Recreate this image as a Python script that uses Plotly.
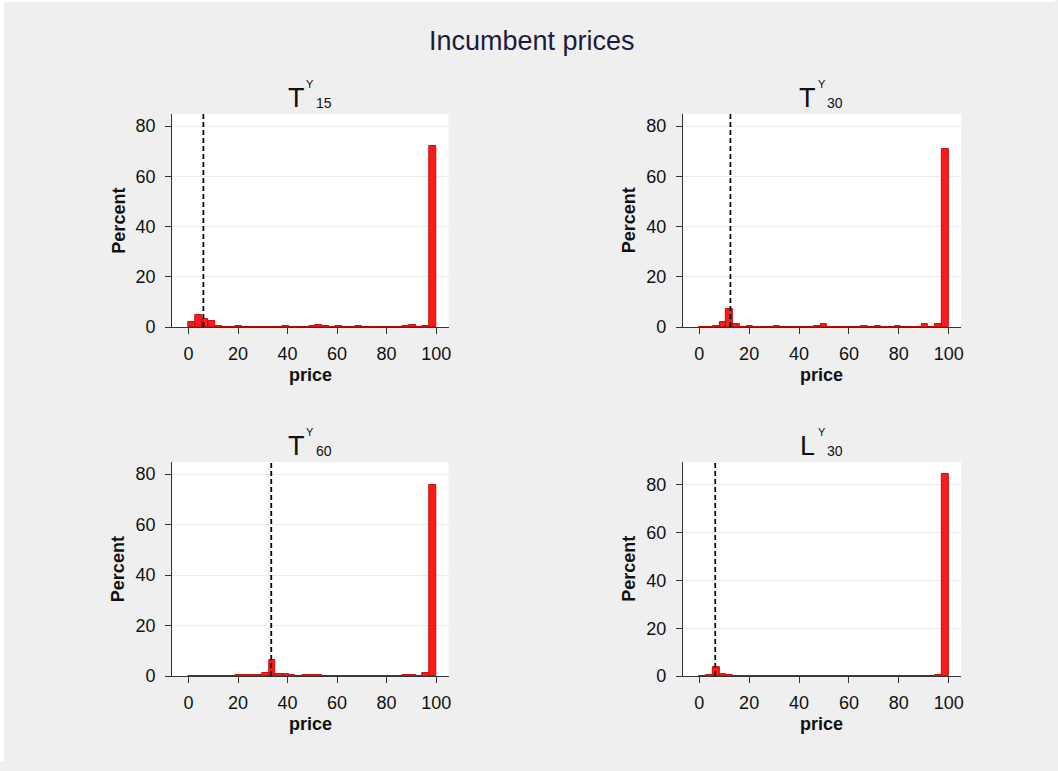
import plotly.graph_objects as go

W, H = 1058, 771

# ---------------- data ----------------
bin_left = [0.0, 2.7, 5.4, 8.1, 10.8, 13.5, 16.2, 18.9, 21.6, 24.3,
            27.0, 29.7, 32.4, 35.1, 37.8, 40.5, 43.2, 45.9, 48.6, 51.3,
            54.0, 56.7, 59.4, 62.1, 64.8, 67.5, 70.2, 72.9, 75.6, 78.3,
            81.0, 83.7, 86.4, 89.1, 91.8, 94.5, 97.2]
bin_width = 2.7

pct_T15 = [2.0, 4.8, 3.1, 2.4, 0.3, 0.2, 0.2, 0.4, 0.2, 0.1,
           0.1, 0.2, 0.1, 0.2, 0.3, 0.2, 0.1, 0.2, 0.4, 0.8,
           0.3, 0.1, 0.3, 0.1, 0.2, 0.6, 0.2, 0.1, 0.2, 0.2,
           0.1, 0.2, 0.3, 0.9, 0.2, 0.5, 72.2]
pct_T30 = [0.2, 0.2, 0.3, 2.1, 7.3, 1.0, 0.2, 0.4, 0.2, 0.1,
           0.1, 0.3, 0.2, 0.2, 0.2, 0.2, 0.2, 0.3, 1.3, 0.1,
           0.1, 0.2, 0.2, 0.2, 0.3, 0.2, 0.3, 0.1, 0.2, 0.3,
           0.2, 0.2, 0.2, 1.3, 0.2, 1.3, 71.0]
pct_T60 = [0.2, 0.1, 0.1, 0.2, 0.1, 0.1, 0.2, 0.3, 0.3, 0.5,
           0.5, 1.1, 6.3, 0.8, 0.7, 0.3, 0.2, 0.3, 0.4, 0.3,
           0.2, 0.2, 0.2, 0.1, 0.1, 0.2, 0.2, 0.1, 0.2, 0.1,
           0.2, 0.2, 0.3, 0.3, 0.2, 1.0, 75.6]
pct_L30 = [0.2, 0.3, 3.9, 1.0, 0.3, 0.2, 0.1, 0.2, 0.2, 0.1,
           0.2, 0.1, 0.2, 0.2, 0.1, 0.2, 0.2, 0.1, 0.2, 0.2,
           0.2, 0.1, 0.2, 0.1, 0.2, 0.2, 0.2, 0.1, 0.2, 0.2,
           0.1, 0.2, 0.2, 0.2, 0.1, 0.3, 84.3]

median_lines = [6.0, 12.5, 33.4, 6.4]

panel_letter = ["T", "T", "T", "L"]
panel_sub = ["15", "30", "60", "30"]
x_ticks = [0, 20, 40, 60, 80, 100]
y_ticks = [0, 20, 40, 60, 80]
y_max = [84.8, 84.8, 84.8, 89.5]

series = [pct_T15, pct_T30, pct_T60, pct_L30]

# ---------------- layout geometry (pixels) ----------------
# (left, right, top, bottom) of each plot region
boxes = [(172, 448, 114, 327), (682, 960, 114, 327),
         (172, 448, 462, 676), (682, 960, 462, 676)]

SX, SY = 0.996, 0.987   # compensation for the capture's slight shrink


def px(x):
    return x / (W * SX)


def py(y):
    return 1 - y / (H * SY)


fig = go.Figure()
ink = "#111111"
bg = "#efefef"
layout = dict(
    width=W, height=H,
    margin=dict(l=0, r=0, t=0, b=0),
    paper_bgcolor=bg,
    plot_bgcolor="white",
    showlegend=False,
    bargap=0,
    font=dict(family="Liberation Sans, Arial, sans-serif", color=ink),
)
shapes = [
    # thin white frame at the left and top edges
    dict(type="rect", xref="paper", yref="paper", x0=0, x1=px(4),
         y0=0, y1=1, fillcolor="white", line=dict(width=0), layer="below"),
    dict(type="rect", xref="paper", yref="paper", x0=0, x1=1,
         y0=py(2), y1=1, fillcolor="white", line=dict(width=0), layer="below"),
]
annotations = []

for i, vals in enumerate(series):
    n = i + 1
    sfx = "" if n == 1 else str(n)
    l, r, t, b = boxes[i]
    fig.add_trace(go.Bar(
        x=bin_left, y=vals, width=bin_width, offset=0,
        marker=dict(color="#ff1a1a", line=dict(color="#c00000", width=0.9)),
        xaxis="x" + sfx, yaxis="y" + sfx, hoverinfo="x+y",
    ))
    layout["xaxis" + sfx] = dict(
        domain=[px(l), px(r)], range=[-6.6, 105.0], anchor="y" + sfx,
        tickvals=x_ticks, ticks="outside", ticklen=6, tickcolor="#333",
        showline=True, linecolor="#333", linewidth=1, showgrid=False,
        zeroline=False, tickfont=dict(size=18, color=ink),
        ticklabelstandoff=4, fixedrange=True,
    )
    layout["yaxis" + sfx] = dict(
        domain=[py(b), py(t)], range=[0, y_max[i]], anchor="x" + sfx,
        tickvals=y_ticks, ticks="outside", ticklen=6, tickcolor="#333",
        showline=True, linecolor="#333", linewidth=1, showgrid=True,
        gridcolor="#ececec", gridwidth=1, zeroline=False,
        tickfont=dict(size=18, color=ink), ticklabelstandoff=6,
        fixedrange=True,
    )
    shapes.append(dict(type="line", xref="x" + sfx, yref="y" + sfx + " domain",
                       x0=median_lines[i], x1=median_lines[i], y0=0, y1=1,
                       line=dict(color="black", width=1.8, dash="5px,3px")))
    cx = (l + r) / 2
    # axis titles
    annotations.append(dict(text="<b>Percent</b>", xref="paper", yref="paper",
                            x=px(l - 54), y=py((t + b) / 2), textangle=-90,
                            showarrow=False, xanchor="center", yanchor="middle",
                            font=dict(size=18, color=ink)))
    annotations.append(dict(text="<b>price</b>", xref="paper", yref="paper",
                            x=px(cx), y=py(b + 48), showarrow=False,
                            xanchor="center", yanchor="middle",
                            font=dict(size=18, color=ink)))
    # panel titles: letter, superscript Y, subscript
    annotations.append(dict(text=panel_letter[i], xref="paper", yref="paper",
                            x=px(cx - 14), y=py(t - 16), showarrow=False,
                            xanchor="center", yanchor="middle",
                            font=dict(size=27, color=ink)))
    annotations.append(dict(text="Y", xref="paper", yref="paper",
                            x=px(cx), y=py(t - 30), showarrow=False,
                            xanchor="center", yanchor="middle",
                            font=dict(size=11, color=ink)))
    annotations.append(dict(text=panel_sub[i], xref="paper", yref="paper",
                            x=px(cx + 13.5), y=py(t - 11), showarrow=False,
                            xanchor="center", yanchor="middle",
                            font=dict(size=14, color=ink)))

annotations.append(dict(text="Incumbent prices", xref="paper", yref="paper",
                        x=px(531), y=py(41), showarrow=False,
                        xanchor="center", yanchor="middle",
                        font=dict(size=27, color="#1c1c3a")))

layout["shapes"] = shapes
layout["annotations"] = annotations
fig.update_layout(**layout)
fig.write_html(
    "out.html",
    config={"displayModeBar": False},
    post_script=(
        "document.documentElement.style.margin='0px';"
        "document.documentElement.style.overflow='hidden';"
        "document.documentElement.style.background='#efefef';"
        "document.body.style.margin='0px';"
        "document.body.style.overflow='hidden';"
        "document.body.style.background='#efefef';"
        "var gd=document.getElementById('{plot_id}');"
        "gd.style.display='block';"
        "gd.parentElement.style.lineHeight='0';"
    ),
)
